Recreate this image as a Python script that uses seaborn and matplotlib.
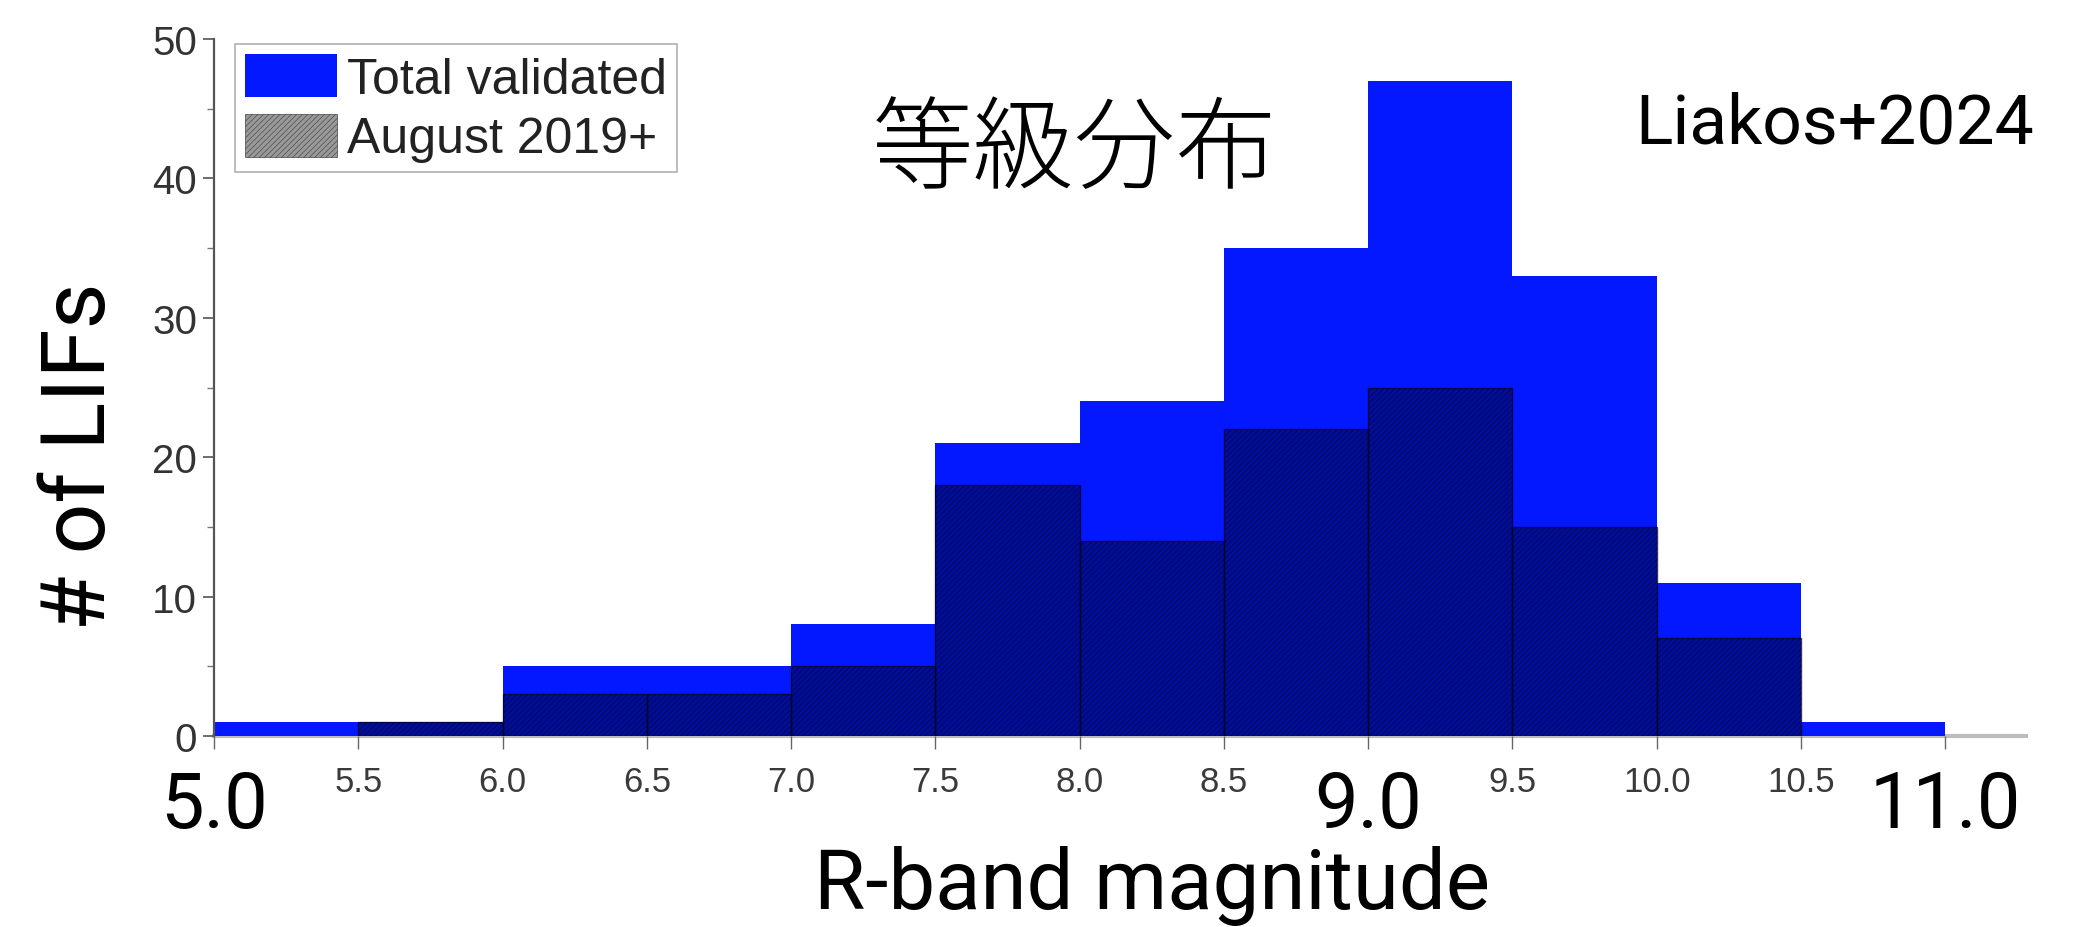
import numpy as np
import pandas as pd
import matplotlib
matplotlib.use("Agg")
import matplotlib.pyplot as plt
import matplotlib.transforms as mtransforms
import seaborn as sns
from matplotlib.patches import Patch
from matplotlib.ticker import MultipleLocator

# ---------------- data ----------------
bin_left = [5.0, 5.5, 6.0, 6.5, 7.0, 7.5, 8.0, 8.5, 9.0, 9.5, 10.0, 10.5]
bin_width = 0.5
total_validated = [1, 1, 5, 5, 8, 21, 24, 35, 47, 33, 11, 1]
august_2019 = [0, 1, 3, 3, 5, 18, 14, 22, 25, 15, 7, 0]
x_ticks = [5.0, 5.5, 6.0, 6.5, 7.0, 7.5, 8.0, 8.5, 9.0, 9.5, 10.0, 10.5, 11.0]
x_tick_labels = ["", "5.5", "6.0", "6.5", "7.0", "7.5", "8.0", "8.5", "", "9.5", "10.0", "10.5", ""]
big_x_ticks = [5.0, 9.0, 11.0]
big_x_labels = ["5.0", "9.0", "11.0"]
y_ticks = [0, 10, 20, 30, 40, 50]
series_labels = ["Total validated", "August 2019+"]
title_text = "等級分布"
source_text = "Liakos+2024"
x_label = "R-band magnitude"
y_label = "# of LIFs"

# ---------------- style ----------------
sns.set_theme(style="white")
plt.rcParams["font.family"] = ["Liberation Sans", "DejaVu Sans"]
plt.rcParams["hatch.linewidth"] = 0.45
big_font = ["Roboto", "DejaVu Sans"]

df = pd.DataFrame({
    "mag": [b + bin_width / 2 for b in bin_left],
    "total": total_validated,
    "aug": august_2019,
})
edges = bin_left + [bin_left[-1] + bin_width]

fig = plt.figure(figsize=(20.74, 9.28), dpi=100)
ax = fig.add_axes([0.1032, 0.2058, 0.8737, 0.7511])

blue = "#0418FF"
hatch_face = (0, 0, 0, 0.40)
sns.histplot(data=df, x="mag", weights="total", bins=edges, ax=ax,
             color=blue, alpha=1.0, linewidth=0, element="bars")
n_total = len(ax.patches)
sns.histplot(data=df, x="mag", weights="aug", bins=edges, ax=ax,
             color="black", alpha=1.0, linewidth=0.8, element="bars")
for p in ax.patches[n_total:]:
    if p.get_height() > 0:
        p.set_facecolor(hatch_face)
        p.set_edgecolor((0, 0, 0.08, 0.7))
        p.set_hatch("//////")
        p.set_linewidth(1.0)
    else:
        p.set_visible(False)

ax.set_xlim(5.0, 11.28)
ax.set_ylim(0, 50)
ax.set_xticks(x_ticks)
ax.set_xticklabels(x_tick_labels)
ax.set_yticks(y_ticks)
ax.yaxis.set_minor_locator(MultipleLocator(5))
ax.set_xlabel("")
ax.set_ylabel("")

for s in ["top", "right"]:
    ax.spines[s].set_visible(False)
ax.spines["left"].set_color("#555555")
ax.spines["left"].set_linewidth(1.6)
ax.spines["bottom"].set_color("#bdbdbd")
ax.spines["bottom"].set_linewidth(3)
ax.spines["bottom"].set_zorder(0.5)

ax.tick_params(axis="y", which="major", left=True, length=8, width=1.2, color="#555555",
               labelsize=29, labelcolor="#333333", pad=4)
ax.tick_params(axis="y", which="minor", left=True, length=5, width=1.0, color="#777777")
ax.tick_params(axis="x", which="major", bottom=True, length=9, width=1.0, color="#666666",
               labelsize=25, labelcolor="#3a3a3a", pad=12)

# legend
handles = [Patch(facecolor=blue, edgecolor="none"),
           Patch(facecolor=hatch_face, edgecolor=(0, 0, 0, 0.55), hatch="//////", linewidth=0.6)]
leg = ax.legend(handles, series_labels, loc="upper left", bbox_to_anchor=(0.0115, 0.993),
                fontsize=36, frameon=True, fancybox=False, framealpha=1,
                handlelength=1.85, handleheight=0.95, handletextpad=0.2,
                borderpad=0.2, labelspacing=0.22, borderaxespad=0.0)
leg.get_frame().set_edgecolor("#b0b0b0")
leg.get_frame().set_linewidth(1.2)
for t in leg.get_texts():
    t.set_color("#222222")

# big overlay texts
big_y = 1 - 807 / 928
blend = mtransforms.blended_transform_factory(ax.transData, fig.transFigure)
for xv, lab in zip(big_x_ticks, big_x_labels):
    ax.text(xv, big_y, lab, transform=blend, ha="center", va="center",
            fontsize=56, color="black", family=big_font, fontweight="normal")

fig.text(1152 / 2074, 19 / 928, x_label, ha="center", va="baseline", fontsize=60,
         color="black", family=big_font, fontweight="normal")
fig.text(80 / 2074, 1 - 456 / 928, y_label, ha="center", va="center", rotation=90,
         fontsize=64, color="black", family=big_font, fontweight="normal")
fig.text(1074 / 2074, 1 - 152 / 928, title_text, ha="center", va="center", fontsize=73,
         color="black", family=["Noto Sans CJK JP", "DejaVu Sans"], fontweight="light")
fig.text(1835 / 2074, 1 - 124 / 928, source_text, ha="center", va="center", fontsize=50,
         color="black", family=big_font, fontweight="normal")

fig.savefig("out.png", dpi=100)
